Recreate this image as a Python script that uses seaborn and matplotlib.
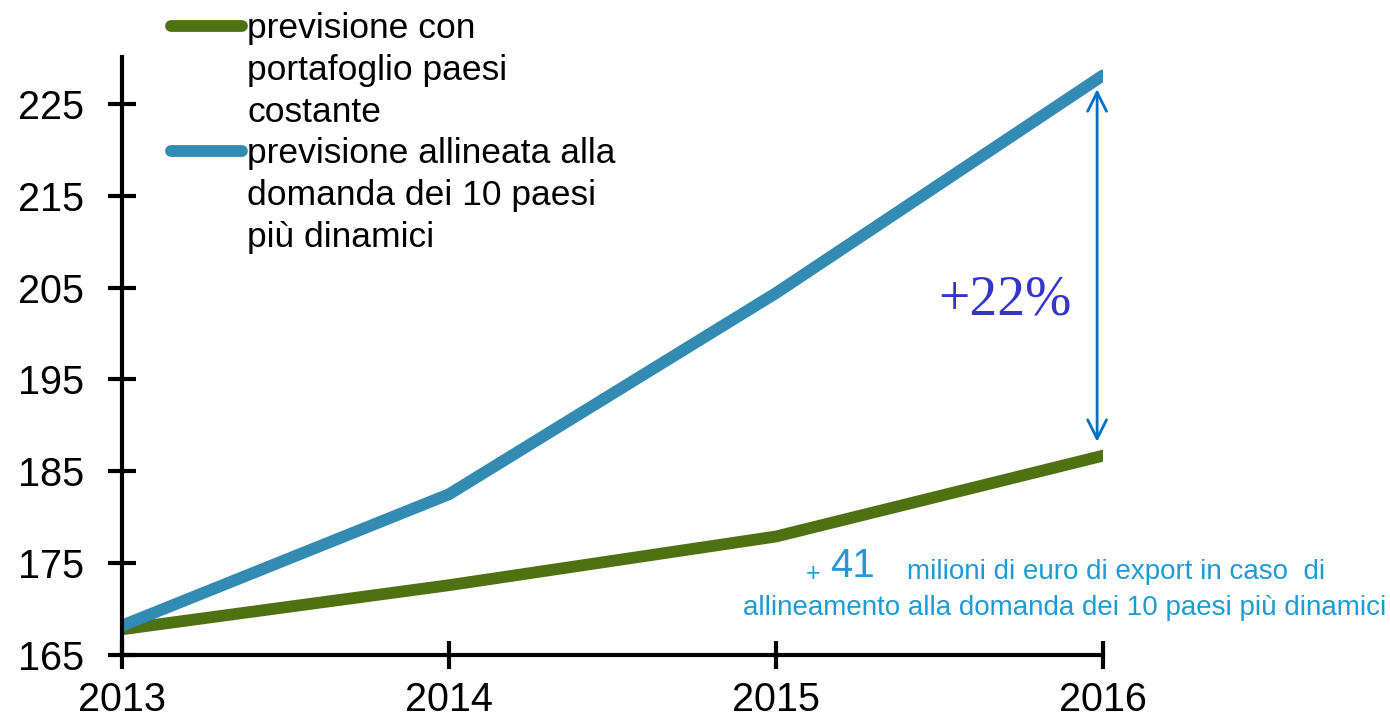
import numpy as np
import pandas as pd
import matplotlib
matplotlib.use('Agg')
import matplotlib.pyplot as plt
import seaborn as sns
from matplotlib.lines import Line2D

# dati
anni = [2013, 2014, 2015, 2016]
costante = [167.8, 172.6, 177.9, 186.7]
allineata = [168.2, 182.5, 204.4, 228.1]
etichette = ['previsione con\nportafoglio paesi\ncostante',
             'previsione allineata alla\ndomanda dei 10 paesi\npiù dinamici']
colori = ['#4E7211', '#338AB2']
yticks = [165, 175, 185, 195, 205, 215, 225]

df = pd.DataFrame({
    'anno': anni * 2,
    'valore': costante + allineata,
    'serie': [etichette[0]] * 4 + [etichette[1]] * 4,
})

sns.set_style('white')
plt.rcParams['font.family'] = ['Liberation Sans', 'DejaVu Sans']
plt.rcParams['text.color'] = 'black'

fig = plt.figure(figsize=(13.9, 7.22), dpi=100)
ax = fig.add_axes([122 / 1390, 1 - 655 / 722, (1103 - 122) / 1390, (655 - 57) / 722])

sns.lineplot(data=df, x='anno', y='valore', hue='serie', palette=colori,
             linewidth=8.5, legend=False, ax=ax, sort=False)

ax.set_xlim(2013, 2016)
ax.set_ylim(165, 230.1)
ax.set_xticks(anni)
ax.set_xticklabels([str(a) for a in anni])
ax.set_yticks(yticks)
ax.set_xlabel('')
ax.set_ylabel('')

for s in ['top', 'right']:
    ax.spines[s].set_visible(False)
for s in ['left', 'bottom']:
    ax.spines[s].set_linewidth(3)
    ax.spines[s].set_color('black')
ax.tick_params(bottom=True, left=True, direction='inout', length=20, width=3,
               labelsize=28.5, colors='black')
ax.tick_params(axis='y', pad=17)
ax.tick_params(axis='x', pad=9)

# legenda: una riga per ogni riga di testo, linea solo sulla prima
handles, testi = [], []
for c, lab in zip(colori, etichette):
    for i, riga in enumerate(lab.split('\n')):
        handles.append(Line2D([0], [0], color=c if i == 0 else 'none', lw=8.5,
                              solid_capstyle='round'))
        testi.append(riga)
leg = fig.legend(handles, testi, loc='upper left', bbox_to_anchor=(150 / 1390, 1.0 + 9 / 722),
                 frameon=False, fontsize=25.5, handlelength=2.0, handletextpad=0.15,
                 labelspacing=0.245, borderaxespad=0.2)

# freccia differenza
xa = 2016 - 0.018
ax.annotate('', xy=(xa, costante[-1]), xytext=(xa, allineata[-1]),
            arrowprops=dict(arrowstyle='<->', color='#0070C0', lw=2,
                            mutation_scale=34, shrinkA=10, shrinkB=10))
ax.text(2015.70, 203.6, '+22%', color='#3535C8', fontsize=40,
        family='Liberation Serif', ha='center', va='center')

# nota
fig.text(806 / 1390, 1 - 574 / 722, '+', color='#1E9BD2', fontsize=18,
         family='Liberation Sans', ha='left', va='center')
fig.text(830 / 1390, 1 - 566 / 722, '41', color='#1E9BD2', fontsize=29,
         family='Liberation Sans', ha='left', va='center')
fig.text(907 / 1390, 1 - 572 / 722, 'milioni di euro di export in caso  di', color='#1E9BD2',
         fontsize=20, family='Liberation Sans', ha='left', va='center')
fig.text(1386 / 1390, 1 - 608 / 722, 'allineamento alla domanda dei 10 paesi più dinamici',
         color='#1E9BD2', fontsize=20, family='Liberation Sans', ha='right', va='center')

fig.savefig('out.png', dpi=100)
